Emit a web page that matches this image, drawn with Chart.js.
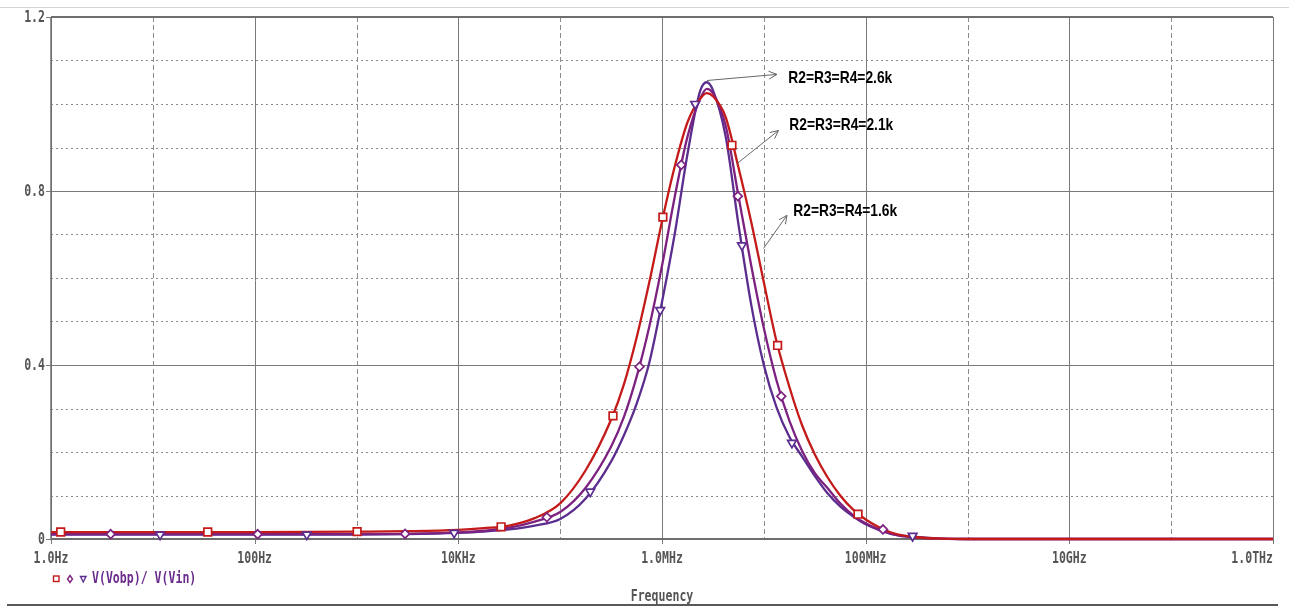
<!DOCTYPE html>
<html>
<head>
<meta charset="utf-8">
<script src="https://cdn.jsdelivr.net/npm/chart.js@4.4.1/dist/chart.umd.min.js"></script>
<style>
html,body{margin:0;padding:0;background:#fff;overflow:hidden}
#wrap{position:relative;width:1289px;height:607px}
</style>
</head>
<body>
<div id="wrap"><canvas id="c"></canvas></div>
<script>
// ---------- data ----------
const freqHz = [1, 10, 100, 1e3, 3.16e3, 1e4, 1.78e4, 3.16e4, 5.62e4, 1e5,
  1.78e5, 3.16e5, 4.22e5, 5.62e5, 7.5e5, 1e6, 1.33e6, 1.78e6, 2.37e6, 2.75e6,
  3.16e6, 4.22e6, 5.62e6, 7.5e6, 1e7, 1.33e7, 1.78e7, 2.37e7, 3.16e7, 4.22e7,
  5.62e7, 7.5e7, 1e8, 1.78e8, 3.16e8, 5.62e8, 1e9, 1e10, 1e11, 1e12];

const gainSquare = [0.016, 0.016, 0.016, 0.017, 0.018, 0.021, 0.025, 0.031, 0.048, 0.082,
  0.158, 0.274, 0.355, 0.462, 0.590, 0.730, 0.855, 0.958, 1.012, 1.025,
  1.018, 0.970, 0.855, 0.730, 0.590, 0.455, 0.350, 0.262, 0.195, 0.142,
  0.100, 0.068, 0.045, 0.015, 0.004, 0.001, 0, 0, 0, 0];

const gainDiamond = [0.011, 0.011, 0.011, 0.011, 0.012, 0.015, 0.019, 0.026, 0.040, 0.062,
  0.118, 0.212, 0.280, 0.372, 0.488, 0.628, 0.785, 0.925, 1.012, 1.035,
  1.025, 0.950, 0.790, 0.630, 0.485, 0.365, 0.272, 0.203, 0.152, 0.117,
  0.082, 0.055, 0.036, 0.012, 0.003, 0.001, 0, 0, 0, 0];

const gainTriangle = [0.010, 0.010, 0.010, 0.010, 0.011, 0.014, 0.017, 0.022, 0.031, 0.046,
  0.093, 0.178, 0.238, 0.310, 0.405, 0.545, 0.700, 0.885, 1.030, 1.050,
  1.032, 0.925, 0.725, 0.540, 0.400, 0.303, 0.235, 0.190, 0.145, 0.105,
  0.075, 0.052, 0.034, 0.012, 0.005, 0.001, 0, 0, 0, 0];

// trace markers
const squareFreq = [1.245, 34.6, 1014, 2.63e4, 3.30e5, 1.02e6, 4.86e6, 1.365e7, 8.41e7];
const squareVal  = [0.016, 0.016, 0.017, 0.028, 0.283, 0.740, 0.905, 0.445, 0.057];
const diamondFreq = [3.855, 107, 3000, 7.40e4, 6.01e5, 1.545e6, 5.56e6, 1.483e7, 1.479e8];
const diamondVal  = [0.011, 0.011, 0.012, 0.050, 0.396, 0.860, 0.788, 0.328, 0.022];
const triangleFreq = [11.78, 325, 9100, 1.972e5, 9.59e5, 2.118e6, 6.10e6, 1.888e7, 2.89e8];
const triangleVal  = [0.010, 0.010, 0.014, 0.109, 0.526, 1.000, 0.675, 0.221, 0.007];

// axes
const xTickValues = [1, 100, 1e4, 1e6, 1e8, 1e10, 1e12];
const xTickLabels = ['1.0Hz', '100Hz', '10KHz', '1.0MHz', '100MHz', '10GHz', '1.0THz'];
const xMinorGrid = [10, 1e3, 1e5, 1e7, 1e9, 1e11];
const yTickValues = [0, 0.4, 0.8, 1.2];
const yTickLabels = ['0', '0.4', '0.8', '1.2'];
const yMinorGrid = [0.1, 0.2, 0.3, 0.5, 0.6, 0.7, 0.9, 1.0, 1.1];
const xTitle = 'Frequency';
const legendText = 'V(Vobp)/ V(Vin)';

// annotations (data coordinates)
const annLabels = ['R2=R3=R4=2.6k', 'R2=R3=R4=2.1k', 'R2=R3=R4=1.6k'];
const annFromFreq = [2.76e6, 5.45e6, 9.93e6];
const annFromVal  = [1.054, 0.863, 0.668];
const annToFreq   = [1.345e7, 1.393e7, 1.687e7];
const annToVal    = [1.068, 0.939, 0.744];
const annTextFreq = [1.738e7, 1.778e7, 1.945e7];
const annTextVal  = [1.059, 0.951, 0.753];

// ---------- styling ----------
const COL_SQ = '#c41a1a', COL_DI = '#7d2181', COL_TR = '#5b2d8e';
const AXIS_TXT = '#555555';
const MONO = 'bold 11px "DejaVu Sans Mono", "Liberation Mono", monospace';

function pts(xs, ys) { return xs.map((x, i) => ({x: x, y: ys[i]})); }

function stretchText(ctx, text, x, y, align, sx, sy) {
  ctx.save();
  ctx.translate(x, y);
  ctx.scale(sx, sy);
  ctx.textAlign = align;
  ctx.textBaseline = 'middle';
  ctx.fillText(text, 0, 0);
  ctx.restore();
}

const decor = {
  id: 'decor',
  beforeDatasetsDraw(chart) {
    const ctx = chart.ctx, a = chart.chartArea, xs = chart.scales.x, ys = chart.scales.y;
    ctx.save();
    // page frame lines
    ctx.strokeStyle = '#d4d4d4'; ctx.lineWidth = 1;
    ctx.beginPath(); ctx.moveTo(0, 7.5); ctx.lineTo(1289, 7.5); ctx.stroke();
    ctx.strokeStyle = '#222'; ctx.lineWidth = 1.5;
    ctx.beginPath(); ctx.moveTo(7, 605); ctx.lineTo(1278, 605); ctx.stroke();

    // dotted horizontal minor grid
    ctx.strokeStyle = '#8c8c8c'; ctx.lineWidth = 1; ctx.setLineDash([2, 3]);
    yMinorGrid.forEach(v => {
      const y = Math.round(ys.getPixelForValue(v)) + 0.5;
      ctx.beginPath(); ctx.moveTo(a.left, y); ctx.lineTo(a.right, y); ctx.stroke();
    });
    // dashed vertical minor grid
    ctx.setLineDash([5, 3]);
    xMinorGrid.forEach(f => {
      const x = Math.round(xs.getPixelForValue(f)) + 0.5;
      ctx.beginPath(); ctx.moveTo(x, a.top); ctx.lineTo(x, a.bottom); ctx.stroke();
    });
    // solid major grid
    ctx.setLineDash([]);
    ctx.strokeStyle = '#7a7a7a'; ctx.lineWidth = 1;
    xTickValues.forEach(f => {
      const x = Math.round(xs.getPixelForValue(f)) + 0.5;
      ctx.beginPath(); ctx.moveTo(x, a.top); ctx.lineTo(x, a.bottom + 5); ctx.stroke();
    });
    yTickValues.forEach(v => {
      const y = Math.round(ys.getPixelForValue(v)) + 0.5;
      ctx.beginPath(); ctx.moveTo(a.left - 5, y); ctx.lineTo(a.right, y); ctx.stroke();
    });
    // heavier frame: top and bottom
    ctx.strokeStyle = '#6e6e6e'; ctx.lineWidth = 2;
    ctx.beginPath(); ctx.moveTo(a.left, a.top); ctx.lineTo(a.right, a.top); ctx.stroke();
    ctx.beginPath(); ctx.moveTo(a.left, a.bottom); ctx.lineTo(a.right, a.bottom); ctx.stroke();
    ctx.lineWidth = 1.5;
    ctx.beginPath(); ctx.moveTo(a.left, a.top); ctx.lineTo(a.left, a.bottom); ctx.stroke();
    ctx.restore();
  },
  afterDatasetsDraw(chart) {
    const ctx = chart.ctx, a = chart.chartArea, xs = chart.scales.x, ys = chart.scales.y;
    ctx.save();
    // axis tick labels
    ctx.fillStyle = AXIS_TXT; ctx.font = MONO;
    xTickValues.forEach((f, i) => {
      const x = xs.getPixelForValue(f);
      const last = i === xTickValues.length - 1;
      stretchText(ctx, xTickLabels[i], last ? a.right : x, 559, last ? 'right' : 'center', 1.05, 1.45);
    });
    yTickValues.forEach((v, i) => {
      stretchText(ctx, yTickLabels[i], a.left - 6, ys.getPixelForValue(v) + 0.5, 'right', 1.05, 1.45);
    });
    // axis title
    stretchText(ctx, xTitle, (a.left + a.right) / 2, 597, 'center', 1.05, 1.45);

    // legend
    ctx.lineWidth = 1.4;
    ctx.strokeStyle = COL_SQ;
    ctx.strokeRect(53.5, 576, 5.5, 5.5);
    ctx.strokeStyle = COL_DI;
    ctx.beginPath(); ctx.moveTo(70, 575.5); ctx.lineTo(72.5, 579); ctx.lineTo(70, 582.5); ctx.lineTo(67.5, 579); ctx.closePath(); ctx.stroke();
    ctx.strokeStyle = COL_TR;
    ctx.beginPath(); ctx.moveTo(80.5, 576.5); ctx.lineTo(86, 576.5); ctx.lineTo(83.25, 582); ctx.closePath(); ctx.stroke();
    ctx.fillStyle = '#6a2c8c'; ctx.font = MONO;
    stretchText(ctx, legendText, 92, 579, 'left', 1.05, 1.4);

    // annotations
    ctx.strokeStyle = '#666'; ctx.lineWidth = 1;
    ctx.fillStyle = '#000';
    ctx.font = 'bold 15px "Liberation Sans", Arial, sans-serif';
    annLabels.forEach((t, i) => {
      const x1 = xs.getPixelForValue(annFromFreq[i]), y1 = ys.getPixelForValue(annFromVal[i]);
      const x2 = xs.getPixelForValue(annToFreq[i]), y2 = ys.getPixelForValue(annToVal[i]);
      ctx.beginPath(); ctx.moveTo(x1, y1); ctx.lineTo(x2, y2); ctx.stroke();
      const ang = Math.atan2(y2 - y1, x2 - x1), L = 9, s = 0.45;
      ctx.beginPath();
      ctx.moveTo(x2 - L * Math.cos(ang - s), y2 - L * Math.sin(ang - s));
      ctx.lineTo(x2, y2);
      ctx.lineTo(x2 - L * Math.cos(ang + s), y2 - L * Math.sin(ang + s));
      ctx.stroke();
      stretchText(ctx, t, xs.getPixelForValue(annTextFreq[i]), ys.getPixelForValue(annTextVal[i]), 'left', 0.92, 1.08);
    });
    ctx.restore();
  }
};

const lineDs = (vals, col) => ({
  type: 'line', data: pts(freqHz, vals), borderColor: col, borderWidth: 2.3,
  pointRadius: 0, cubicInterpolationMode: 'monotone', fill: false, clip: false, order: 2
});
const markDs = (xs, ys, col, style, r, rot) => ({
  type: 'scatter', data: pts(xs, ys), showLine: false, borderColor: col, backgroundColor: '#fff',
  pointStyle: style, pointRadius: r, pointRotation: rot, pointBorderWidth: 1.7,
  borderWidth: 1.7, clip: false, order: 1
});

new Chart(document.getElementById('c'), {
  type: 'line',
  data: {
    datasets: [
      lineDs(gainSquare, COL_SQ),
      lineDs(gainDiamond, COL_DI),
      lineDs(gainTriangle, COL_TR),
      markDs(squareFreq, squareVal, COL_SQ, 'rect', 5.4, 0),
      markDs(diamondFreq, diamondVal, COL_DI, 'rectRot', 4.4, 0),
      markDs(triangleFreq, triangleVal, COL_TR, 'triangle', 5, 180)
    ]
  },
  options: {
    responsive: true, maintainAspectRatio: false, animation: false, events: [],
    layout: {padding: {left: 51, right: 16, top: 17, bottom: 68}},
    plugins: {legend: {display: false}, tooltip: {enabled: false}},
    scales: {
      x: {type: 'logarithmic', min: 1, max: 1e12, display: false},
      y: {type: 'linear', min: 0, max: 1.2, display: false}
    }
  },
  plugins: [decor]
});
</script>
</body>
</html>
